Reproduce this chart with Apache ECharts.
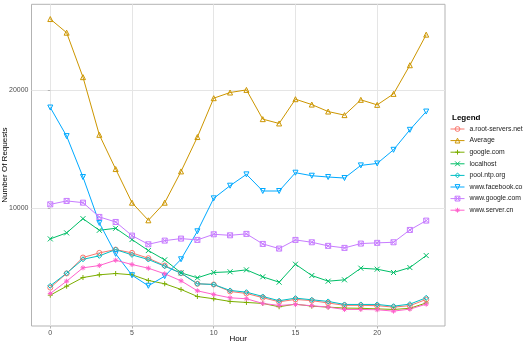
<!DOCTYPE html>
<html>
<head>
<meta charset="utf-8">
<script src="https://cdn.jsdelivr.net/npm/echarts@6/dist/echarts.min.js"></script>
<style>
  html, body { margin: 0; padding: 0; background: #fff; }
  #chart { width: 523px; height: 344px; }
</style>
</head>
<body>
<div id="chart"></div>
<script>
// hours on the x axis
var hours = [0,1,2,3,4,5,6,7,8,9,10,11,12,13,14,15,16,17,18,19,20,21,22,23];
var xTicks = [0, 5, 10, 15, 20];
var yTicks = [10000, 20000];

// requests per hour
var rootServers = [3250,4450,5800,6190,6470,6190,5740,5120,4470,3575,3515,2925,2755,2400,2050,2250,2150,1950,1750,1750,1720,1600,1720,2250];
var average     = [25990,24835,21070,16190,13290,10440,8950,10440,13090,16000,19290,19770,19990,17515,17150,19205,18750,18160,17855,19150,18725,19655,22080,24670];
var googleCom   = [2610,3370,4105,4335,4445,4335,3855,3575,3095,2500,2305,2080,1995,1910,1630,1850,1680,1600,1515,1500,1450,1400,1500,1950];
var localhost   = [7375,7885,9090,8105,8275,7320,6390,5600,4500,4080,4530,4590,4755,4165,3710,5230,4275,3795,3910,4895,4810,4530,4950,5965];
var poolNtp     = [3405,4470,5650,5940,6470,6025,5630,5065,4470,3575,3515,3010,2865,2500,2140,2360,2220,2080,1825,1825,1825,1680,1850,2390];
var facebook    = [18500,16080,12615,8730,6110,4300,3405,4220,5650,8020,10810,11880,12840,11430,11430,12980,12725,12615,12530,13600,13765,14920,16610,18160];
var wwwGoogle   = [10300,10590,10445,9235,8810,7655,6920,7230,7400,7290,7765,7680,7800,6950,6555,7290,7090,6785,6615,6980,7040,7090,8135,8925];
var serverCn    = [2755,3795,4925,5120,5570,5205,4895,4420,3825,2980,2670,2390,2305,1910,1740,1825,1715,1600,1400,1400,1375,1260,1430,1850];

var seriesNames = ['a.root-servers.net','Average','google.com','localhost','pool.ntp.org','www.facebook.com','www.google.com','www.server.cn'];
var seriesData = [rootServers, average, googleCom, localhost, poolNtp, facebook, wwwGoogle, serverCn];
var colors = ['#F8766D','#CD9600','#7CAE00','#00BE67','#00BFC4','#00A9FF','#C77CFF','#FF61CC'];
// ggplot shapes 1..8
var shapes = [
    'circle',
    'triangle',
    'path://M5,0L5,10M0,5L10,5',
    'path://M0,0L10,10M10,0L0,10',
    'diamond',
    'triangle',
    'path://M0,0L10,0L10,10L0,10ZM0,0L10,10M10,0L0,10',
    'path://M5,0L5,10M0,5L10,5M1.5,1.5L8.5,8.5M8.5,1.5L1.5,8.5'
];
var hollow = 'rgba(0,0,0,0)';

var series = [];
var legendData = [];
seriesNames.forEach(function (name, i) {
    series.push({
        name: name,
        type: 'line',
        data: hours.map(function (h, j) { return [h, seriesData[i][j]]; }),
        symbol: shapes[i],
        symbolSize: 5,
        symbolRotate: i === 5 ? 180 : 0,
        lineStyle: { color: colors[i], width: 1 },
        itemStyle: { color: hollow, borderColor: colors[i], borderWidth: 1 },
        emphasis: { disabled: true },
        animation: false
    });
    legendData.push({
        name: name,
        itemStyle: { color: hollow, borderColor: colors[i], borderWidth: 1 },
        lineStyle: { color: colors[i], width: 1 }
    });
});

var myChart = echarts.init(document.getElementById('chart'));
myChart.setOption({
    animation: false,
    color: colors,
    title: {
        text: 'Legend',
        left: 452,
        top: 114,
        padding: 0,
        textStyle: { fontFamily: 'Liberation Sans', fontSize: 8, fontWeight: 'bold', color: '#000' }
    },
    legend: {
        orient: 'vertical',
        left: 450,
        top: 125.5,
        padding: 0,
        itemWidth: 14,
        itemHeight: 6,
        itemGap: 4.6,
        itemSymbolKeepAspect: true,
        selectedMode: false,
        textStyle: { fontFamily: 'Liberation Sans', fontSize: 6.8, color: '#1a1a1a' },
        data: legendData
    },
    grid: {
        left: 31.5,
        top: 4.3,
        width: 413.5,
        height: 321.7,
        outerBoundsMode: 'none',
        containLabel: false,
        show: true,
        borderColor: '#b3b3b3',
        borderWidth: 1,
        backgroundColor: '#fff'
    },
    xAxis: {
        type: 'value',
        min: -1.15,
        max: 24.15,
        name: 'Hour',
        nameLocation: 'middle',
        nameGap: 9,
        nameMoveOverlap: false,
        nameTextStyle: { fontFamily: 'Liberation Sans', fontSize: 8, color: '#000', verticalAlign: 'top' },
        axisLine: { show: false },
        axisTick: { show: true, length: 2.5, customValues: xTicks, lineStyle: { color: '#b3b3b3' } },
        axisLabel: { customValues: xTicks, fontFamily: 'Liberation Sans', fontSize: 7, color: '#4d4d4d', margin: 4 },
        splitLine: { show: true, lineStyle: { color: '#e5e5e5', width: 1 } }
    },
    yAxis: {
        type: 'value',
        min: 0,
        max: 27240,
        name: 'Number Of Requests',
        nameLocation: 'middle',
        nameGap: 23,
        nameMoveOverlap: false,
        nameTextStyle: { fontFamily: 'Liberation Sans', fontSize: 8, color: '#000' },
        axisLine: { show: false },
        axisTick: { show: true, length: 2.5, customValues: yTicks, lineStyle: { color: '#b3b3b3' } },
        axisLabel: {
            customValues: yTicks,
            formatter: function (v) { return String(v); },
            fontFamily: 'Liberation Sans', fontSize: 7, color: '#4d4d4d', margin: 3
        },
        splitLine: { show: true, lineStyle: { color: '#e5e5e5', width: 1 } }
    },
    series: series
});
</script>
</body>
</html>
